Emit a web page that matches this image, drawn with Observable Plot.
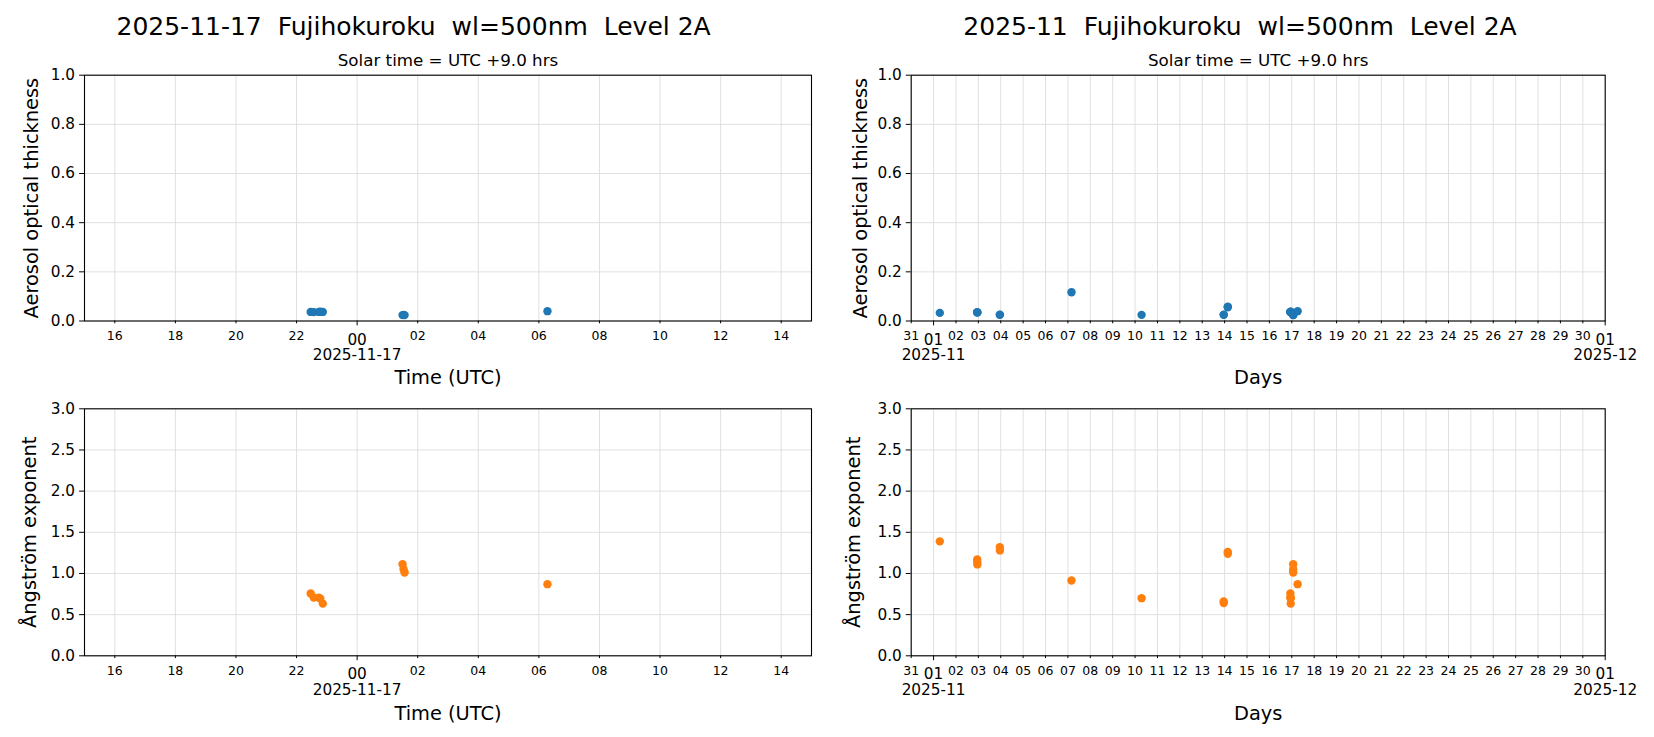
<!DOCTYPE html>
<html>
<head>
<meta charset="utf-8">
<script src="https://cdn.jsdelivr.net/npm/d3@7"></script>
<script src="https://cdn.jsdelivr.net/npm/@observablehq/plot@0.6"></script>
<style>
  body { margin: 0; background: white; }
  #fig { position: relative; width: 1654px; height: 737px; background: white; font-family: "DejaVu Sans", sans-serif; color: black; overflow: hidden; }
  .title { position: absolute; transform: translate(-50%, -50%); white-space: pre; font-size: 25px; }
  .panel { position: absolute; }
</style>
</head>
<body>
<div id="fig"></div>
<script>
// ---- Data ----
const obsTimesUTC = [
  "2025-11-01T06:40", "2025-11-02T22:45", "2025-11-02T22:50", "2025-11-02T22:55",
  "2025-11-03T23:00", "2025-11-03T23:05", "2025-11-07T03:50", "2025-11-10T07:00",
  "2025-11-13T23:00", "2025-11-13T23:05", "2025-11-14T03:20", "2025-11-14T03:25",
  "2025-11-16T22:28", "2025-11-16T22:34", "2025-11-16T22:44", "2025-11-16T22:47", "2025-11-16T22:52",
  "2025-11-17T01:30", "2025-11-17T01:32", "2025-11-17T01:34", "2025-11-17T06:17"
];
const aot500 = [
  0.033, 0.036, 0.034, 0.035,
  0.025, 0.026, 0.117, 0.025,
  0.025, 0.026, 0.056, 0.058,
  0.037, 0.036, 0.037, 0.038, 0.037,
  0.024, 0.025, 0.024, 0.040
];
const angstrom = [
  1.39, 1.17, 1.14, 1.11,
  1.32, 1.28, 0.915, 0.70,
  0.66, 0.64, 1.26, 1.24,
  0.756, 0.707, 0.707, 0.695, 0.634,
  1.113, 1.052, 1.012, 0.87
];

const dayTitle = "2025-11-17  Fujihokuroku  wl=500nm  Level 2A";
const monthTitle = "2025-11  Fujihokuroku  wl=500nm  Level 2A";
const solarText = "Solar time = UTC +9.0 hrs";

const dayDomainUTC = ["2025-11-16T15:00", "2025-11-17T15:00"];
const monthDomainUTC = ["2025-10-31T00:00", "2025-12-01T00:00"];

const dayMinorTicksUTC = ["2025-11-16T16:00", "2025-11-16T18:00", "2025-11-16T20:00", "2025-11-16T22:00",
  "2025-11-17T02:00", "2025-11-17T04:00", "2025-11-17T06:00", "2025-11-17T08:00",
  "2025-11-17T10:00", "2025-11-17T12:00", "2025-11-17T14:00"];
const dayMajorTicksUTC = ["2025-11-17T00:00"];
const dayMajorLabels = ["00\n2025-11-17"];

const monthMinorTicksUTC = ["2025-10-31", "2025-11-02", "2025-11-03", "2025-11-04", "2025-11-05", "2025-11-06",
  "2025-11-07", "2025-11-08", "2025-11-09", "2025-11-10", "2025-11-11", "2025-11-12", "2025-11-13",
  "2025-11-14", "2025-11-15", "2025-11-16", "2025-11-17", "2025-11-18", "2025-11-19", "2025-11-20",
  "2025-11-21", "2025-11-22", "2025-11-23", "2025-11-24", "2025-11-25", "2025-11-26", "2025-11-27",
  "2025-11-28", "2025-11-29", "2025-11-30"];
const monthMajorTicksUTC = ["2025-11-01", "2025-12-01"];
const monthMajorLabels = ["01\n2025-11", "01\n2025-12"];

const aotTicks = [0, 0.2, 0.4, 0.6, 0.8, 1.0];
const angTicks = [0, 0.5, 1.0, 1.5, 2.0, 2.5, 3.0];

// ---- Helpers ----
const toDate = s => new Date(s.length === 10 ? s + "T00:00:00Z" : s + ":00Z");
const obs = obsTimesUTC.map((s, i) => ({t: toDate(s), aot: aot500[i], ang: angstrom[i]}));

const fig = document.getElementById("fig");
function addTitle(text, cx, cy) {
  const d = document.createElement("div");
  d.className = "title";
  d.textContent = text;
  d.style.left = cx + "px";
  d.style.top = cy + "px";
  fig.appendChild(d);
}

const GRID = "#dcdcdc";
const FONT = "DejaVu Sans";

function panel({left, top, width, height, mL, mR, mT, mB, xDomain, minor, major, majorLabels, minorFmt,
                yTicks, yDomain, field, color, xLabel, yLabel, yLabelDx, xLabelDy, solar}) {
  const minorD = minor.map(toDate);
  const majorD = major.map(toDate);
  const xd = xDomain.map(toDate);
  const data = obs.filter(d => d.t >= xd[0] && d.t <= xd[1]);
  const marks = [
    Plot.gridX(minorD.concat(majorD), {stroke: GRID, strokeOpacity: 1, strokeWidth: 0.9}),
    Plot.gridY(yTicks, {stroke: GRID, strokeOpacity: 1, strokeWidth: 0.9}),
    Plot.dot(data, {x: "t", y: field, r: 4.2, fill: color, stroke: null}),
    Plot.frame({stroke: "black", strokeWidth: 1.1}),
    Plot.axisY(yTicks, {tickSize: 4.9, tickPadding: 4.5, tickFormat: d3.format(".1f"), fontSize: 15.3, label: null}),
    Plot.axisX(minorD, {tickSize: 2.8, tickPadding: 7.5, tickFormat: minorFmt, fontSize: 12.5, label: null}),
    Plot.axisX(majorD, {tickSize: 4.9, tickPadding: 7.5, tickFormat: (d, i) => majorLabels[i], fontSize: 15.3, lineHeight: 1.03, label: null}),
    Plot.text([xLabel], {frameAnchor: "bottom", dy: xLabelDy, fontSize: 19.4, textAnchor: "middle", lineAnchor: "middle", fill: "black"}),
    Plot.text([yLabel], {frameAnchor: "left", dx: yLabelDx, rotate: -90, fontSize: 19.4, textAnchor: "middle", lineAnchor: "middle", fill: "black"})
  ];
  if (solar) marks.push(Plot.text([solar], {frameAnchor: "top", dy: -14.7, fontSize: 16.7, textAnchor: "middle", lineAnchor: "middle", fill: "black"}));
  const chart = Plot.plot({
    width, height,
    marginLeft: mL, marginRight: mR, marginTop: mT, marginBottom: mB,
    x: {type: "utc", domain: xd},
    y: {domain: yDomain},
    style: {fontFamily: FONT, background: "white", color: "black", overflow: "visible"},
    marks
  });
  chart.classList.add("panel");
  chart.style.left = left + "px";
  chart.style.top = top + "px";
  fig.appendChild(chart);
}

addTitle(dayTitle, 413.6, 26);
addTitle(monthTitle, 1240, 26);

const hourFmt = d3.utcFormat("%H");
const dayFmt = d3.utcFormat("%d");

// Top-left
panel({left: 0, top: 42, width: 827, height: 353, mL: 84, mR: 16, mT: 32.7, mB: 74.5,
  xDomain: dayDomainUTC, minor: dayMinorTicksUTC, major: dayMajorTicksUTC, majorLabels: dayMajorLabels, minorFmt: hourFmt,
  yTicks: aotTicks, yDomain: [0, 1], field: "aot", color: "#1f77b4",
  xLabel: "Time (UTC)", yLabel: "Aerosol optical thickness", yLabelDx: -52.4, xLabelDy: 56.5, solar: solarText});
// Top-right
panel({left: 827, top: 42, width: 827, height: 353, mL: 83.7, mR: 49.3, mT: 32.7, mB: 74.5,
  xDomain: monthDomainUTC, minor: monthMinorTicksUTC, major: monthMajorTicksUTC, majorLabels: monthMajorLabels, minorFmt: dayFmt,
  yTicks: aotTicks, yDomain: [0, 1], field: "aot", color: "#1f77b4",
  xLabel: "Days", yLabel: "Aerosol optical thickness", yLabelDx: -50.7, xLabelDy: 56.5, solar: solarText});
// Bottom-left
panel({left: 0, top: 395, width: 827, height: 342, mL: 84, mR: 16, mT: 13.3, mB: 81.7,
  xDomain: dayDomainUTC, minor: dayMinorTicksUTC, major: dayMajorTicksUTC, majorLabels: dayMajorLabels, minorFmt: hourFmt,
  yTicks: angTicks, yDomain: [0, 3], field: "ang", color: "#ff7f0e",
  xLabel: "Time (UTC)", yLabel: "Ångström exponent", yLabelDx: -54.5, xLabelDy: 57.7, solar: null});
// Bottom-right
panel({left: 827, top: 395, width: 827, height: 342, mL: 83.7, mR: 49.3, mT: 13.3, mB: 81.7,
  xDomain: monthDomainUTC, minor: monthMinorTicksUTC, major: monthMajorTicksUTC, majorLabels: monthMajorLabels, minorFmt: dayFmt,
  yTicks: angTicks, yDomain: [0, 3], field: "ang", color: "#ff7f0e",
  xLabel: "Days", yLabel: "Ångström exponent", yLabelDx: -57, xLabelDy: 57.7, solar: null});
</script>
</body>
</html>
